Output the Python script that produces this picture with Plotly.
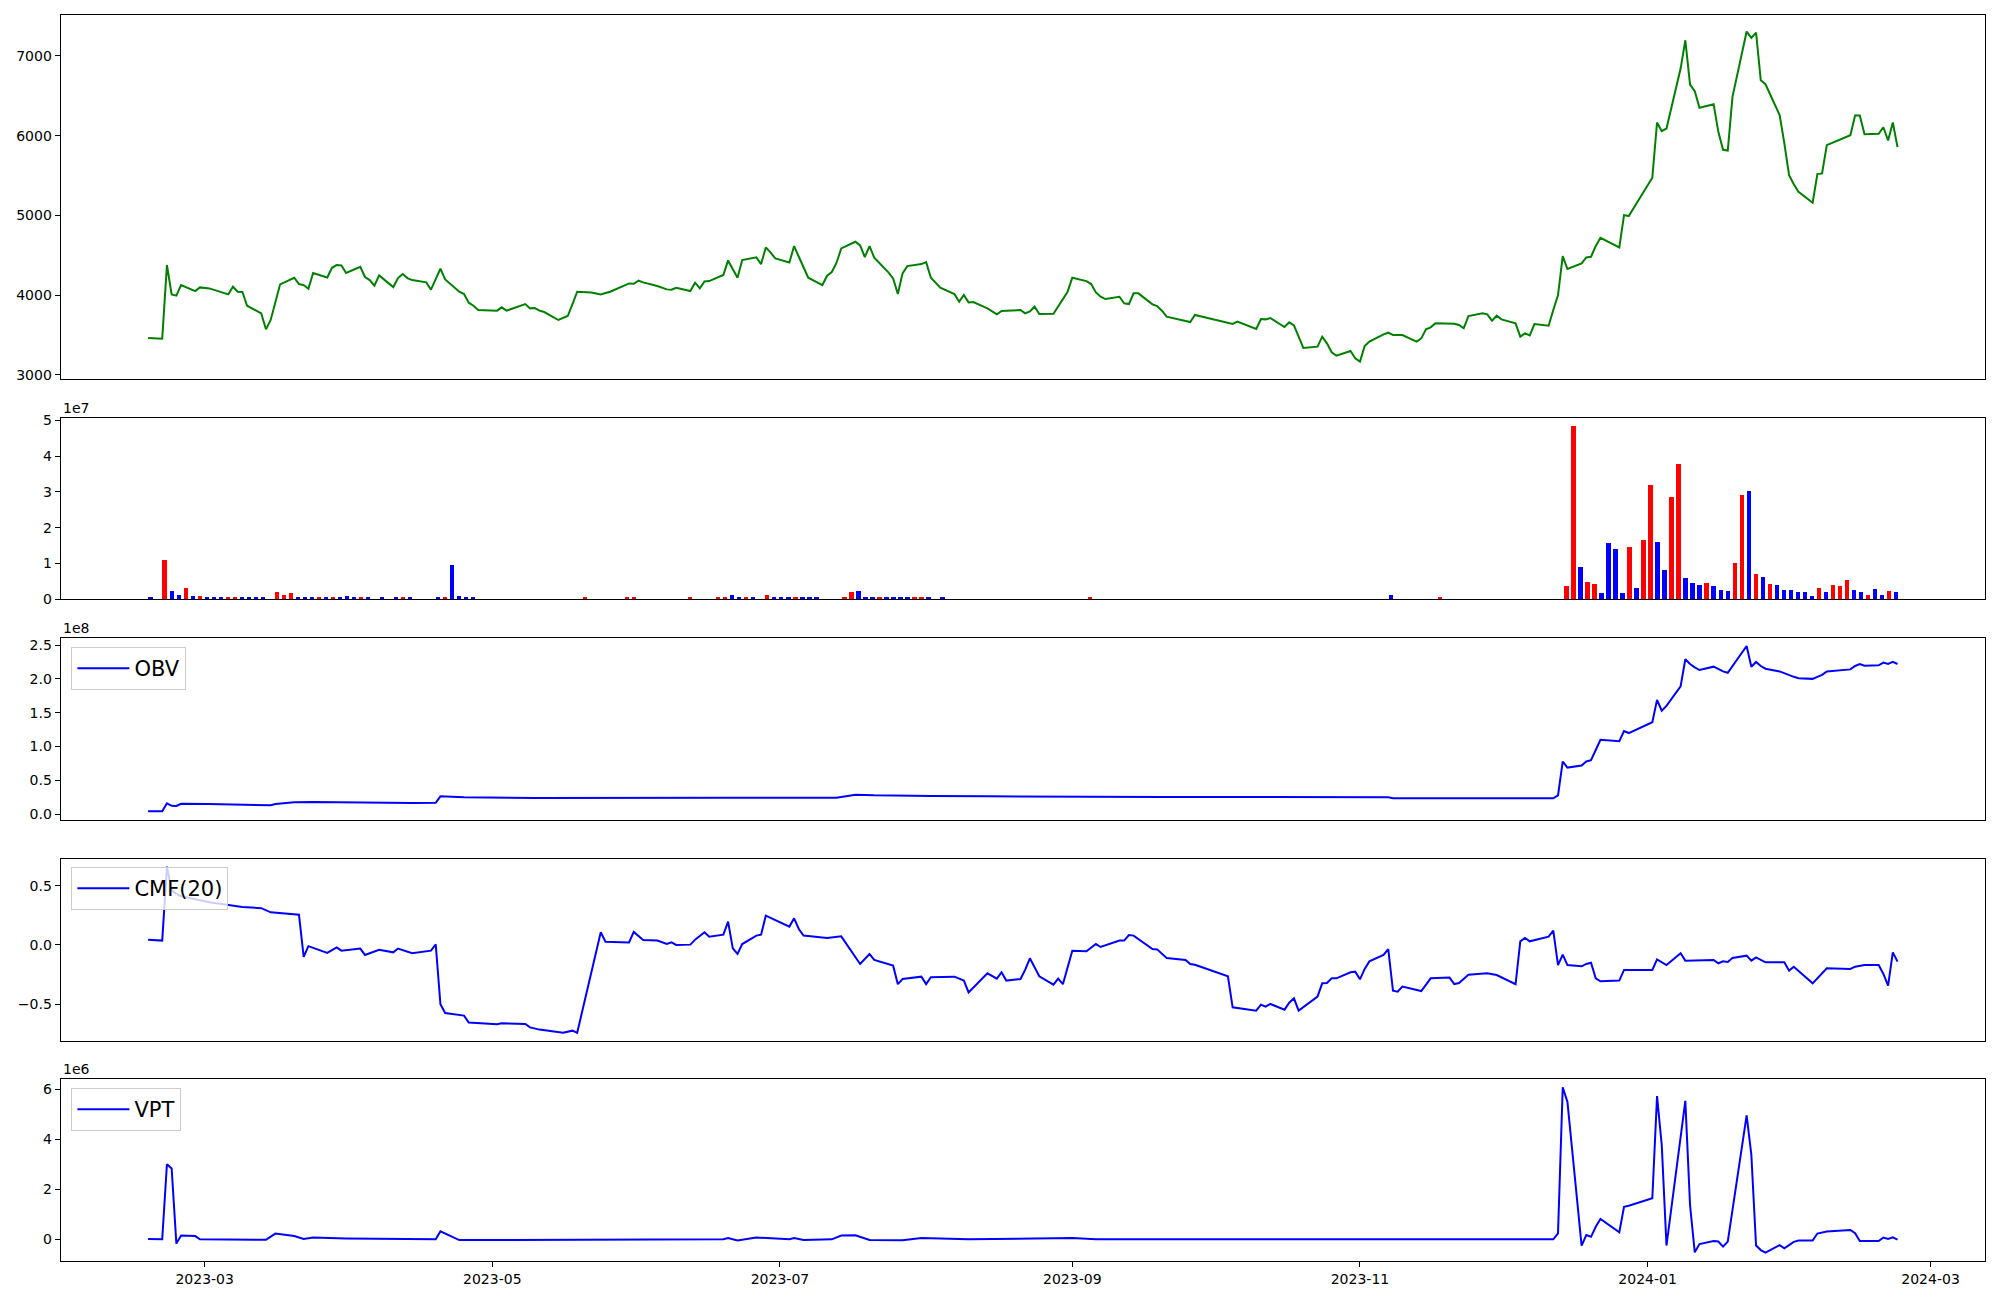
import pandas as pd
import plotly.graph_objects as go

# ---------------- data ----------------
KRX_HOLIDAYS = ["2023-03-01", "2023-05-01", "2023-05-05", "2023-05-29", "2023-06-06",
                "2023-08-15", "2023-09-28", "2023-09-29", "2023-10-02", "2023-10-03",
                "2023-10-09", "2023-12-25", "2023-12-29", "2024-01-01", "2024-02-09",
                "2024-02-12"]
TRADING_DAYS = pd.bdate_range("2023-02-17", "2024-02-23", freq="C",
                              holidays=KRX_HOLIDAYS).strftime("%Y-%m-%d").tolist()

CLOSE = [
    # 2023-02
    3463, 3455, 4378, 4010, 3994, 4127, 4052, 4098,
    # 2023-03
    4085, 4065, 4010, 4106, 4044, 4040, 3868, 3772, 3572, 3689, 3910, 4136, 4219, 4140,
    4127, 4081, 4278, 4223, 4344, 4378, 4374, 4278,
    # 2023-04
    4357, 4228, 4190, 4119, 4248, 4102, 4215, 4265, 4215, 4190, 4161, 4069, 4202, 4332,
    4198, 4044, 4015, 3906, 3868, 3814,
    # 2023-05
    3806, 3848, 3806, 3889, 3835, 3839, 3806, 3789, 3689, 3710, 3739, 3889, 4044, 4035,
    4025, 4010, 4027, 4044, 4148, 4144,
    # 2023-06
    4182, 4161, 4115, 4073, 4069, 4094, 4052, 4157, 4086, 4173, 4177, 4253, 4436, 4328,
    4219, 4440, 4474, 4390, 4599, 4537, 4461,
    # 2023-07
    4411, 4616, 4482, 4349, 4219, 4127, 4244, 4290, 4407, 4587, 4670, 4624, 4478, 4616,
    4470, 4286, 4211, 4015, 4274, 4365, 4390,
    # 2023-08
    4415, 4219, 4157, 4094, 4015, 3919, 4002, 3910, 3914, 3835, 3760, 3802, 3806, 3814,
    3772, 3797, 3856, 3764, 3768, 3856, 3956, 4044,
    # 2023-09
    4219, 4177, 4140, 4035, 3981, 3952, 3981, 3898, 3889, 4023, 4023, 3885, 3864, 3806,
    3731, 3718, 3681, 3664, 3752,
    # 2023-10
    3650, 3639, 3668, 3576, 3701, 3697, 3714, 3601, 3660, 3622, 3480, 3338, 3355, 3480,
    3397, 3284, 3242, 3301, 3209,
    # 2023-11
    3167, 3363, 3418, 3509, 3530, 3501, 3501, 3501, 3418, 3459, 3572, 3597, 3647, 3647,
    3643, 3626, 3585, 3739, 3772, 3760, 3681, 3743,
    # 2023-12
    3697, 3647, 3480, 3522, 3497, 3639, 3618, 3814, 4002, 4491, 4328, 4399, 4474, 4482,
    4616, 4720, 4599, 5004, 4992,
    # 2024-01
    5472, 6165, 6056, 6090, 6841, 7196, 6641, 6557, 6349, 6395, 6048, 5823, 5814, 6486,
    7305, 7225, 7292, 6695, 6645, 6257, 5902, 5505,
    # 2024-02
    5392, 5296, 5159, 5518, 5526, 5881, 6006, 6253, 6253, 6019, 6023, 6106, 5939, 6165,
    5856,
]

# volume in millions, one per trading day (index order); 0.0 = too small to see
VOLUME_M = [
    0.3, 0.0, 11.0, 2.1, 1.2, 3.2, 0.9, 0.9, 0.65, 0.3,
    0.3, 0.3, 0.3, 0.3, 0.3, 0.3, 0.3, 0.0, 2.0, 1.2,
    1.8, 0.3, 0.3, 0.3, 0.65, 0.65, 0.3, 0.3, 0.9, 0.3,
    0.3, 0.3, 0.0, 0.3, 0.0, 0.3, 0.3, 0.65, 0.0, 0.0,
    0.0, 0.3, 0.3, 9.6, 0.9, 0.3, 0.3, 0.0, 0.0, 0.0,
    0.0, 0.0, 0.0, 0.0, 0.0, 0.0, 0.0, 0.0, 0.0, 0.0,
    0.0, 0.0, 0.3, 0.0, 0.0, 0.0, 0.0, 0.0, 0.3, 0.3,
    0.0, 0.0, 0.0, 0.0, 0.0, 0.0, 0.0, 0.3, 0.0, 0.0,
    0.0, 0.3, 0.65, 1.2, 0.3, 0.3, 0.3, 0.0, 1.2, 0.65,
    0.3, 0.3, 0.65, 0.65, 0.3, 0.3, 0.0, 0.0, 0.0, 0.3,
    2.0, 2.3, 0.65, 0.65, 0.3, 0.3, 0.3, 0.3, 0.65, 0.3,
    0.3, 0.3, 0.0, 0.3, 0.0, 0.0, 0.0, 0.0, 0.0, 0.0,
    0.0, 0.0, 0.0, 0.0, 0.0, 0.0, 0.0, 0.0, 0.0, 0.0,
    0.0, 0.0, 0.0, 0.0, 0.3, 0.0, 0.0, 0.0, 0.0, 0.0,
    0.0, 0.0, 0.0, 0.0, 0.0, 0.0, 0.0, 0.0, 0.0, 0.0,
    0.0, 0.0, 0.0, 0.0, 0.0, 0.0, 0.0, 0.0, 0.0, 0.0,
    0.0, 0.0, 0.0, 0.0, 0.0, 0.0, 0.0, 0.0, 0.0, 0.0,
    0.0, 0.0, 0.0, 0.0, 0.0, 0.0, 0.0, 1.2, 0.0, 0.0,
    0.0, 0.0, 0.0, 0.0, 0.3, 0.0, 0.0, 0.0, 0.0, 0.0,
    0.0, 0.0, 0.0, 0.0, 0.0, 0.0, 0.0, 0.0, 0.0, 0.0,
    0.0, 0.0, 3.7, 48.3, 9.0, 4.8, 4.3, 1.8, 15.7, 14.0,
    1.8, 14.6, 3.2, 16.5, 31.9, 16.0, 8.2, 28.5, 37.7, 5.9,
    4.6, 4.0, 4.6, 3.7, 2.6, 2.3, 10.1, 29.1, 30.2, 7.1,
    6.2, 4.3, 4.0, 2.6, 2.6, 2.0, 2.0, 0.9, 3.2, 2.0,
    4.0, 3.7, 5.4, 2.6, 2.0, 1.2, 2.9, 1.2, 2.3, 2.0,
]
# 1 = up day (red), 0 = down day (blue)
VOLUME_UP = [
    0, 0, 1, 0, 0, 1, 0, 1, 0, 0,
    0, 1, 1, 0, 0, 0, 0, 1, 1, 1,
    1, 0, 0, 0, 1, 0, 1, 0, 0, 0,
    1, 0, 0, 0, 0, 0, 1, 0, 0, 0,
    0, 0, 1, 0, 0, 0, 0, 0, 0, 0,
    0, 0, 0, 0, 0, 0, 0, 0, 0, 0,
    0, 0, 1, 0, 0, 0, 0, 0, 1, 1,
    0, 0, 0, 0, 0, 0, 0, 1, 0, 0,
    0, 1, 1, 0, 0, 1, 0, 0, 1, 0,
    0, 0, 1, 0, 0, 0, 0, 0, 0, 1,
    1, 0, 0, 0, 1, 0, 0, 0, 0, 1,
    1, 0, 0, 0, 0, 0, 0, 0, 0, 0,
    0, 0, 0, 0, 0, 0, 0, 0, 0, 0,
    0, 0, 0, 0, 1, 0, 0, 0, 0, 0,
    0, 0, 0, 0, 0, 0, 0, 0, 0, 0,
    0, 0, 0, 0, 0, 0, 0, 0, 0, 0,
    0, 0, 0, 0, 0, 0, 0, 0, 0, 0,
    0, 0, 0, 0, 0, 0, 0, 0, 0, 0,
    0, 0, 0, 0, 1, 0, 0, 0, 0, 0,
    0, 0, 0, 0, 0, 0, 0, 0, 0, 0,
    0, 0, 1, 1, 0, 1, 1, 0, 0, 0,
    0, 1, 0, 1, 1, 0, 0, 1, 1, 0,
    0, 0, 1, 0, 0, 0, 1, 1, 0, 1,
    0, 1, 0, 0, 0, 0, 0, 0, 1, 0,
    1, 1, 1, 0, 0, 1, 0, 0, 1, 0,
]

# OBV (millions)
OBV_DATES = ["2023-02-17", "2023-02-20", "2023-02-21", "2023-02-22", "2023-02-23", "2023-02-24",
             "2023-03-02", "2023-03-09", "2023-03-15", "2023-03-16", "2023-03-20", "2023-03-24",
             "2023-03-31", "2023-04-07", "2023-04-14", "2023-04-19", "2023-04-20", "2023-04-25",
             "2023-05-10", "2023-06-20", "2023-07-13", "2023-07-17", "2023-07-21", "2023-08-02",
             "2023-08-14", "2023-09-20", "2023-11-07", "2023-11-08", "2023-12-12", "2023-12-13",
             "2023-12-14", "2023-12-15", "2023-12-18", "2023-12-19", "2023-12-20", "2023-12-21",
             "2023-12-22", "2023-12-26", "2023-12-27", "2023-12-28", "2024-01-02", "2024-01-03",
             "2024-01-04", "2024-01-05", "2024-01-08", "2024-01-09", "2024-01-10", "2024-01-11",
             "2024-01-12", "2024-01-15", "2024-01-16", "2024-01-17", "2024-01-18", "2024-01-19",
             "2024-01-22", "2024-01-23", "2024-01-24", "2024-01-25", "2024-01-26", "2024-01-29",
             "2024-01-30", "2024-01-31", "2024-02-01", "2024-02-02", "2024-02-05", "2024-02-06",
             "2024-02-07", "2024-02-08", "2024-02-13", "2024-02-14", "2024-02-15", "2024-02-16",
             "2024-02-19", "2024-02-20", "2024-02-21", "2024-02-22", "2024-02-23"]
OBV_M = [4.4, 4.4, 16.2, 12.5, 12.3, 15.6,
         15.2, 14.5, 13.3, 15.3, 17.8, 18.2,
         17.5, 17.6, 16.8, 16.9, 26.5, 25.3,
         24.2, 24.4, 24.3, 29.0, 28.0, 27.2,
         26.5, 25.7, 25.2, 23.8, 23.6, 28.0,
         78.0, 69.0, 72.0, 78.0, 80.0, 95.0,
         110.0, 108.0, 123.0, 120.0, 136.0, 169.0,
         153.0, 160.0, 189.0, 229.0, 222.0, 217.0,
         213.0, 218.0, 214.0, 211.0, 209.0, 219.0,
         248.5, 218.0, 225.0, 219.0, 215.0, 211.0,
         208.0, 205.0, 203.0, 201.0, 200.0, 203.0,
         206.0, 211.0, 214.0, 219.0, 222.0, 219.5,
         220.0, 224.0, 222.0, 225.0, 222.0]

CMF_DATES = ["2023-02-17", "2023-02-20", "2023-02-21", "2023-02-22", "2023-02-23", "2023-02-24",
             "2023-03-02", "2023-03-06", "2023-03-09", "2023-03-13", "2023-03-15", "2023-03-21",
             "2023-03-22", "2023-03-23", "2023-03-27", "2023-03-29", "2023-03-30", "2023-04-03",
             "2023-04-04", "2023-04-07", "2023-04-10", "2023-04-11", "2023-04-14", "2023-04-18",
             "2023-04-19", "2023-04-20", "2023-04-21", "2023-04-25", "2023-04-26", "2023-05-02",
             "2023-05-03", "2023-05-08", "2023-05-09", "2023-05-11", "2023-05-16", "2023-05-18",
             "2023-05-19", "2023-05-24", "2023-05-25", "2023-05-30", "2023-05-31", "2023-06-02",
             "2023-06-05", "2023-06-07", "2023-06-08", "2023-06-09", "2023-06-12", "2023-06-13",
             "2023-06-15", "2023-06-16", "2023-06-19", "2023-06-20", "2023-06-21", "2023-06-22",
             "2023-06-23", "2023-06-26", "2023-06-27", "2023-06-28", "2023-07-03", "2023-07-04",
             "2023-07-05", "2023-07-06", "2023-07-11", "2023-07-14", "2023-07-18", "2023-07-20",
             "2023-07-21", "2023-07-25", "2023-07-26", "2023-07-27", "2023-07-31", "2023-08-01",
             "2023-08-02", "2023-08-07", "2023-08-09", "2023-08-10", "2023-08-14", "2023-08-16",
             "2023-08-17", "2023-08-18", "2023-08-21", "2023-08-22", "2023-08-23", "2023-08-25",
             "2023-08-28", "2023-08-29", "2023-08-30", "2023-09-01", "2023-09-04", "2023-09-06",
             "2023-09-07", "2023-09-11", "2023-09-12", "2023-09-13", "2023-09-14", "2023-09-18",
             "2023-09-19", "2023-09-21", "2023-09-25", "2023-09-26", "2023-09-27", "2023-10-04",
             "2023-10-05", "2023-10-10", "2023-10-11", "2023-10-12", "2023-10-13", "2023-10-16",
             "2023-10-17", "2023-10-18", "2023-10-19", "2023-10-23", "2023-10-24", "2023-10-25",
             "2023-10-26", "2023-10-27", "2023-10-30", "2023-10-31", "2023-11-01", "2023-11-02",
             "2023-11-03", "2023-11-06", "2023-11-07", "2023-11-08", "2023-11-09", "2023-11-10",
             "2023-11-14", "2023-11-16", "2023-11-20", "2023-11-21", "2023-11-22", "2023-11-24",
             "2023-11-27", "2023-11-28", "2023-11-30", "2023-12-04", "2023-12-05", "2023-12-06",
             "2023-12-07", "2023-12-11", "2023-12-12", "2023-12-13", "2023-12-14", "2023-12-15",
             "2023-12-18", "2023-12-19", "2023-12-20", "2023-12-21", "2023-12-22", "2023-12-26",
             "2023-12-27", "2023-12-28", "2024-01-02", "2024-01-03", "2024-01-05", "2024-01-08",
             "2024-01-09", "2024-01-15", "2024-01-16", "2024-01-17", "2024-01-18", "2024-01-19",
             "2024-01-22", "2024-01-23", "2024-01-24", "2024-01-26", "2024-01-30", "2024-01-31",
             "2024-02-01", "2024-02-05", "2024-02-08", "2024-02-13", "2024-02-14", "2024-02-16",
             "2024-02-19", "2024-02-20", "2024-02-21", "2024-02-22", "2024-02-23"]
CMF = [0.045, 0.037, 0.66, 0.46, 0.43, 0.41,
       0.36, 0.34, 0.32, 0.31, 0.275, 0.255,
       -0.10, -0.01, -0.067, -0.02, -0.048, -0.03,
       -0.084, -0.04, -0.062, -0.03, -0.07, -0.048,
       0.005, -0.50, -0.573, -0.595, -0.654, -0.668,
       -0.66, -0.666, -0.694, -0.713, -0.74, -0.722,
       -0.74, 0.107, 0.028, 0.022, 0.11, 0.042,
       0.037, 0.008, 0.022, 0.0, 0.003, 0.045,
       0.107, 0.07, 0.087, 0.197, -0.028, -0.076,
       0.008, 0.079, 0.087, 0.247, 0.155, 0.225,
       0.135, 0.079, 0.059, 0.073, -0.16, -0.076,
       -0.126, -0.174, -0.33, -0.287, -0.267, -0.33,
       -0.272, -0.267, -0.30, -0.40, -0.239, -0.284,
       -0.23, -0.30, -0.287, -0.21, -0.112, -0.264,
       -0.334, -0.284, -0.33, -0.048, -0.053, 0.008,
       -0.017, 0.037, 0.037, 0.084, 0.079, -0.034,
       -0.037, -0.11, -0.126, -0.16, -0.166, -0.264,
       -0.525, -0.553, -0.503, -0.52, -0.497, -0.545,
       -0.486, -0.449, -0.553, -0.435, -0.323, -0.32,
       -0.281, -0.281, -0.23, -0.225, -0.289, -0.202,
       -0.138, -0.084, -0.034, -0.385, -0.393, -0.351,
       -0.388, -0.281, -0.275, -0.329, -0.32, -0.25,
       -0.244, -0.239, -0.253, -0.331, 0.031, 0.059,
       0.031, 0.07, 0.121, -0.169, -0.081, -0.169,
       -0.18, -0.16, -0.149, -0.281, -0.306, -0.30,
       -0.21, -0.21, -0.21, -0.121, -0.169, -0.07,
       -0.132, -0.126, -0.154, -0.138, -0.143, -0.11,
       -0.09, -0.132, -0.104, -0.146, -0.146, -0.216,
       -0.183, -0.323, -0.197, -0.202, -0.183, -0.169,
       -0.169, -0.244, -0.343, -0.062, -0.14]

# VPT (millions)
VPT_DATES = ["2023-02-17", "2023-02-20", "2023-02-21", "2023-02-22", "2023-02-23", "2023-02-24",
             "2023-02-27", "2023-02-28", "2023-03-14", "2023-03-16", "2023-03-20", "2023-03-22",
             "2023-03-24", "2023-03-31", "2023-04-19", "2023-04-20", "2023-04-24", "2023-06-19",
             "2023-06-20", "2023-06-22", "2023-06-26", "2023-07-03", "2023-07-04", "2023-07-06",
             "2023-07-12", "2023-07-14", "2023-07-17", "2023-07-20", "2023-07-27", "2023-07-31",
             "2023-08-10", "2023-09-01", "2023-09-06", "2023-12-12", "2023-12-13", "2023-12-14",
             "2023-12-15", "2023-12-18", "2023-12-19", "2023-12-20", "2023-12-21", "2023-12-22",
             "2023-12-26", "2023-12-27", "2023-12-28", "2024-01-02", "2024-01-03", "2024-01-04",
             "2024-01-05", "2024-01-08", "2024-01-09", "2024-01-10", "2024-01-11", "2024-01-12",
             "2024-01-15", "2024-01-16", "2024-01-17", "2024-01-18", "2024-01-19", "2024-01-22",
             "2024-01-23", "2024-01-24", "2024-01-25", "2024-01-26", "2024-01-29", "2024-01-30",
             "2024-01-31", "2024-02-01", "2024-02-02", "2024-02-05", "2024-02-06", "2024-02-07",
             "2024-02-08", "2024-02-13", "2024-02-14", "2024-02-15", "2024-02-16", "2024-02-19",
             "2024-02-20", "2024-02-21", "2024-02-22", "2024-02-23"]
VPT_M = [0.01, 0.0, 3.0, 2.83, -0.17, 0.15,
         0.13, 0.0, -0.02, 0.23, 0.13, 0.01,
         0.07, 0.03, 0.0, 0.32, -0.03, 0.0,
         0.05, -0.05, 0.07, 0.0, 0.05, -0.03,
         0.0, 0.15, 0.16, -0.03, -0.04, 0.05,
         0.0, 0.05, 0.0, 0.0, 0.24, 6.07,
         5.49, -0.25, 0.17, 0.1, 0.5, 0.81,
         0.28, 1.30, 1.34, 1.64, 5.72, 3.76,
         -0.25, 4.2, 5.53, 1.37, -0.52, -0.19,
         -0.07, -0.09, -0.29, -0.09, 1.12, 4.95,
         3.37, -0.25, -0.43, -0.53, -0.23, -0.36,
         -0.23, -0.1, -0.05, -0.05, 0.23, 0.27,
         0.31, 0.37, 0.24, -0.07, -0.07, -0.07,
         0.07, 0.01, 0.08, -0.01]

X_TICKS = ["2023-03-01", "2023-05-01", "2023-07-01", "2023-09-01", "2023-11-01",
           "2024-01-01", "2024-03-01"]
X_TICK_TEXT = ["2023-03", "2023-05", "2023-07", "2023-09", "2023-11", "2024-01", "2024-03"]

# ---------------- figure ----------------
W, H = 2000, 1300
BLACK = "#000000"
FONT = "DejaVu Sans"


def ydom(top_px, bot_px):
    return [1 - bot_px / H, 1 - top_px / H]


XDOM = [60.6 / W, 1985 / W]
DATE_RANGE = ["2023-01-29 10:48", "2024-03-12 13:12"]

fig = go.Figure()

fig.add_trace(go.Scatter(x=TRADING_DAYS, y=CLOSE, mode="lines",
                         line=dict(color="green", width=2),
                         xaxis="x", yaxis="y", showlegend=False))

fig.add_trace(go.Bar(x=list(range(len(VOLUME_M))), y=[v * 1e6 for v in VOLUME_M],
                     marker=dict(color=["red" if u else "blue" for u in VOLUME_UP],
                                 line=dict(width=0)),
                     width=0.6, xaxis="x2", yaxis="y2", showlegend=False))

fig.add_trace(go.Scatter(x=OBV_DATES, y=[v * 1e6 for v in OBV_M], mode="lines", name="OBV",
                         line=dict(color="blue", width=2), xaxis="x3", yaxis="y3",
                         legend="legend"))
fig.add_trace(go.Scatter(x=CMF_DATES, y=CMF, mode="lines", name="CMF(20)",
                         line=dict(color="blue", width=2), xaxis="x4", yaxis="y4",
                         legend="legend2"))
fig.add_trace(go.Scatter(x=VPT_DATES, y=[v * 1e6 for v in VPT_M], mode="lines", name="VPT",
                         line=dict(color="blue", width=2), xaxis="x5", yaxis="y5",
                         legend="legend3"))

common_x = dict(domain=XDOM, showline=True, linecolor=BLACK, linewidth=1, mirror=True,
                showgrid=False, zeroline=False, automargin=False)
common_y = dict(showline=True, linecolor=BLACK, linewidth=1, mirror=True, showgrid=False,
                zeroline=False, ticks="outside", ticklen=5, tickwidth=1, tickcolor=BLACK,
                tickfont=dict(family=FONT, size=14, color=BLACK), automargin=False)

date_hidden = dict(common_x, type="date", range=DATE_RANGE, showticklabels=False, ticks="")

legend_style = dict(xanchor="left", yanchor="top", bgcolor="rgba(255,255,255,0.8)",
                    bordercolor="#cccccc", borderwidth=1, itemwidth=52,
                    font=dict(family=FONT, size=21, color=BLACK))

fig.update_layout(
    width=W, height=H, autosize=False,
    margin=dict(l=0, r=0, t=0, b=0),
    paper_bgcolor="white", plot_bgcolor="white",
    font=dict(family=FONT, size=14, color=BLACK),
    xaxis=dict(date_hidden, anchor="y"),
    yaxis=dict(common_y, domain=ydom(15.3, 378.8), anchor="x", range=[2952, 7509],
               tickvals=[3000, 4000, 5000, 6000, 7000],
               ticktext=["3000", "4000", "5000", "6000", "7000"]),
    xaxis2=dict(common_x, type="linear", range=[-12.78, 261.78], showticklabels=False,
                ticks="", anchor="y2"),
    yaxis2=dict(common_y, domain=ydom(418.3, 599.3), anchor="x2", range=[0, 5.06e7],
                tickvals=[0, 1e7, 2e7, 3e7, 4e7, 5e7],
                ticktext=["0", "1", "2", "3", "4", "5"]),
    xaxis3=dict(date_hidden, anchor="y3"),
    yaxis3=dict(common_y, domain=ydom(638.3, 820), anchor="x3", range=[-8.4e6, 2.599e8],
                tickvals=[0, 0.5e8, 1.0e8, 1.5e8, 2.0e8, 2.5e8],
                ticktext=["0.0", "0.5", "1.0", "1.5", "2.0", "2.5"]),
    xaxis4=dict(date_hidden, anchor="y4"),
    yaxis4=dict(common_y, domain=ydom(859.3, 1041), anchor="x4", range=[-0.809, 0.722],
                tickvals=[-0.5, 0.0, 0.5], ticktext=["\u22120.5", "0.0", "0.5"]),
    xaxis5=dict(common_x, type="date", range=DATE_RANGE, anchor="y5",
                ticks="outside", ticklen=5, tickwidth=1, tickcolor=BLACK,
                tickvals=X_TICKS, ticktext=X_TICK_TEXT,
                tickfont=dict(family=FONT, size=14, color=BLACK)),
    yaxis5=dict(common_y, domain=ydom(1079.3, 1261), anchor="x5", range=[-0.866e6, 6.39e6],
                tickvals=[0, 2e6, 4e6, 6e6], ticktext=["0", "2", "4", "6"]),
    legend=dict(legend_style, x=71.4 / W, y=1 - 647 / H),
    legend2=dict(legend_style, x=71.4 / W, y=1 - 867 / H),
    legend3=dict(legend_style, x=71.4 / W, y=1 - 1088 / H),
    bargap=0,
)

for label, ypx in [("1e7", 408), ("1e8", 628), ("1e6", 1069)]:
    fig.add_annotation(text=label, x=60.6 / W, y=1 - ypx / H, xref="paper", yref="paper",
                       xanchor="left", yanchor="middle", showarrow=False,
                       font=dict(family=FONT, size=14, color=BLACK))

fig.write_html("out.html",
               config={"displayModeBar": False},
               post_script="document.body.style.margin='0';document.body.style.padding='0';"
                           "document.body.style.overflow='hidden';")
